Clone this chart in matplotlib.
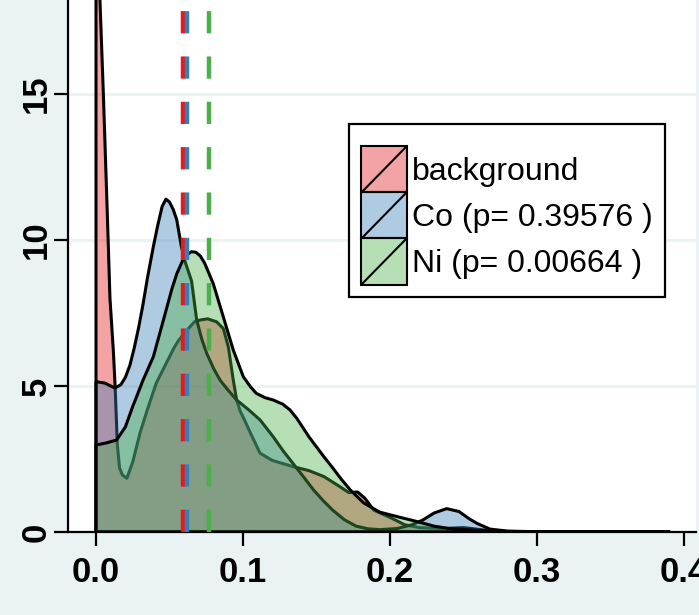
import matplotlib
matplotlib.use('Agg')
import matplotlib.pyplot as plt
from matplotlib.colors import to_rgba
from matplotlib.patches import Rectangle, Patch
from matplotlib.lines import Line2D
from matplotlib.legend_handler import HandlerBase

# density curves
bg_x = [0, 0.0027, 0.005, 0.0075, 0.0095, 0.0118, 0.013, 0.0145, 0.016, 0.018, 0.021, 0.025,
        0.030, 0.035, 0.041, 0.045, 0.049, 0.053, 0.056, 0.060, 0.064, 0.067, 0.0707, 0.076,
        0.082, 0.0866, 0.090, 0.0934, 0.0957, 0.098, 0.101, 0.105, 0.1116, 0.120, 0.134,
        0.145, 0.155, 0.166, 0.172, 0.178, 0.183, 0.189, 0.200, 0.210, 0.220, 0.235, 0.250,
        0.262, 0.275, 0.300, 0.390]
bg_y = [21.0, 18.2, 15.0, 11.2, 8.0, 6.2, 5.0, 3.0, 2.2, 1.95, 1.84, 2.4,
        3.4, 4.2, 5.1, 5.5, 5.9, 6.3, 6.55, 6.8, 7.03, 7.2, 7.26, 7.3,
        7.2, 6.97, 6.35, 5.2, 4.52, 4.15, 3.84, 3.4, 2.7, 2.45, 2.24,
        2.1, 1.9, 1.55, 1.35, 1.37, 1.15, 0.75, 0.5, 0.25, 0.15, 0.12, 0.15,
        0.08, 0.02, 0.0, 0.0]

co_x = [0, 0.006, 0.0129, 0.017, 0.020, 0.023, 0.026, 0.029, 0.032, 0.035, 0.039, 0.042, 0.045,
        0.0476, 0.050, 0.0525, 0.0549, 0.058, 0.0606, 0.065, 0.0685, 0.072, 0.0753, 0.080,
        0.0844, 0.090, 0.0957, 0.1035, 0.1116, 0.1206, 0.127, 0.134, 0.141, 0.148, 0.155,
        0.161, 0.169, 0.177, 0.185, 0.193, 0.205, 0.215, 0.222, 0.230, 0.2386, 0.247, 0.254,
        0.259, 0.268, 0.280, 0.300, 0.390]
co_y = [5.15, 5.1, 4.93, 5.05, 5.3, 5.7, 6.3, 7.0, 7.8, 8.7, 9.77, 10.5, 11.15,
        11.4, 11.3, 11.05, 10.7, 9.8, 9.26, 8.6, 7.26, 6.6, 6.12, 5.6,
        5.2, 4.85, 4.52, 4.2, 3.84, 3.26, 2.8, 2.35, 1.9, 1.44, 1.05,
        0.75, 0.42, 0.2, 0.11, 0.08, 0.12, 0.25, 0.4, 0.65, 0.8, 0.7, 0.45,
        0.3, 0.1, 0.03, 0.01, 0.0]

ni_x = [0, 0.007, 0.014, 0.020, 0.025, 0.032, 0.039, 0.045, 0.0515, 0.055, 0.059, 0.062,
        0.065, 0.068, 0.071, 0.074, 0.0798, 0.0866, 0.0934, 0.1002, 0.105, 0.109, 0.115,
        0.1206, 0.127, 0.132, 0.1365, 0.145, 0.1547, 0.161, 0.167, 0.173, 0.182, 0.193,
        0.207, 0.219, 0.230, 0.240, 0.260, 0.280, 0.300, 0.390]
ni_y = [2.98, 3.05, 3.15, 3.6, 4.3, 5.2, 6.0, 7.1, 8.3, 8.85, 9.3, 9.5,
        9.6, 9.58, 9.45, 9.2, 8.5, 7.37, 6.23, 5.32, 4.98, 4.75, 4.6,
        4.52, 4.38, 4.18, 3.9, 3.25, 2.6, 2.2, 1.8, 1.44, 1.0, 0.68,
        0.5, 0.35, 0.2, 0.12, 0.05, 0.02, 0.01, 0.0]

# group means (dashed lines)
means = [0.059, 0.0621, 0.0771]
labels = ['background', 'Co (p= 0.39576 )', 'Ni (p= 0.00664 )']
colors = ['#E41A1C', '#377EB8', '#4DAF4A']

plt.rcParams['font.family'] = ['Liberation Sans', 'DejaVu Sans']


class DiagHandler(HandlerBase):
    # filled box with one diagonal stroke
    def create_artists(self, legend, orig_handle, xdescent, ydescent, width, height, fontsize, trans):
        x0, y0 = -xdescent, -ydescent
        r = Rectangle((x0, y0), width, height, facecolor=orig_handle.get_facecolor(),
                      edgecolor='black', lw=1.5, transform=trans)
        l = Line2D([x0, x0 + width], [y0, y0 + height], color='black', lw=1.5, transform=trans)
        return [r, l]


fig = plt.figure(figsize=(6.99, 6.15), dpi=100, facecolor='#EAF2F3')
ax = fig.add_axes([68 / 699, 83 / 615, 628 / 699, 532 / 615])
ax.set_facecolor('white')

for xs, ys, c in zip([bg_x, co_x, ni_x], [bg_y, co_y, ni_y], colors):
    ax.fill([xs[0]] + xs + [xs[-1]], [0] + ys + [0], facecolor=to_rgba(c, 0.4),
            edgecolor='black', lw=2.2, joinstyle='round', zorder=2)

for m, c in zip(means, colors):
    ax.axvline(m, color=c, lw=3.2, dashes=(5.0, 5.2), zorder=3)

ax.set_xlim(-0.01905, 0.4082)
ax.set_ylim(0, 18.22)
ax.set_xticks([0, 0.1, 0.2, 0.3, 0.4])
ax.set_xticklabels(['0.0', '0.1', '0.2', '0.3', '0.4'])
ax.set_yticks([0, 5, 10, 15])
ax.yaxis.grid(True, color='#EAF2F3', lw=2)
ax.set_axisbelow(True)

for s in ['top', 'right']:
    ax.spines[s].set_visible(False)
for s in ['left', 'bottom']:
    ax.spines[s].set_linewidth(1.6)
ax.tick_params(axis='both', length=10, width=1.6, labelsize=25)
ax.tick_params(axis='x', pad=7)
ax.tick_params(axis='y', pad=1)
for t in ax.get_xticklabels() + ax.get_yticklabels():
    t.set_fontweight('bold')
plt.setp(ax.get_yticklabels(), rotation=90, va='center')

handles = [Patch(facecolor=to_rgba(c, 0.4)) for c in colors]
leg = ax.legend(handles, labels, loc='upper left', bbox_to_anchor=(0.4475, 0.767),
                borderaxespad=0, fontsize=23, handlelength=1.41, handleheight=1.84,
                handletextpad=0.16, labelspacing=0, borderpad=0.39, fancybox=False,
                framealpha=1, edgecolor='black', title=' ', title_fontsize=7,
                handler_map={Patch: DiagHandler()})
leg.get_frame().set_linewidth(1.6)

fig.savefig('out.png', dpi=100, facecolor=fig.get_facecolor())
